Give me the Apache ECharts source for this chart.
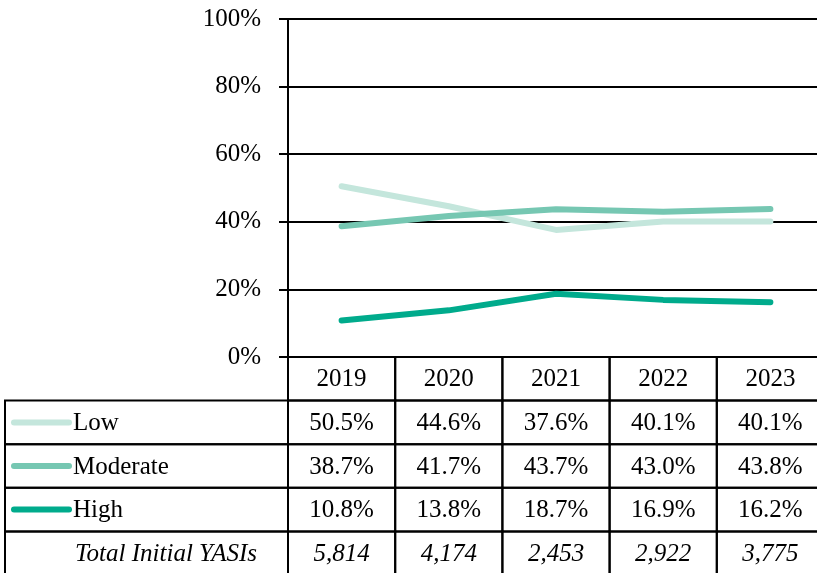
<!DOCTYPE html>
<html>
<head>
<meta charset="utf-8">
<script src="https://cdn.jsdelivr.net/npm/echarts@6/dist/echarts.min.js"></script>
<style>
html, body { margin: 0; padding: 0; background: #fff; }
#main { width: 817px; height: 573px; }
</style>
</head>
<body>
<div id="main"></div>
<script>
var years = ['2019', '2020', '2021', '2022', '2023'];
var low = [50.5, 44.6, 37.6, 40.1, 40.1];
var moderate = [38.7, 41.7, 43.7, 43.0, 43.8];
var high = [10.8, 13.8, 18.7, 16.9, 16.2];
var totals = ['5,814', '4,174', '2,453', '2,922', '3,775'];
var totalLabel = 'Total Initial YASIs';
var seriesNames = ['Low', 'Moderate', 'High'];
var seriesColors = ['#c4e6dc', '#76c7b2', '#00ab8c'];

var FONT = '"Liberation Serif", "Times New Roman", serif';
var FS = 25;
var tableLeft = 5;

// table cells: [column, row] plus a parallel info list
var cells = [];
var cellInfo = [];
function addCell(col, row, info) { cells.push([col, row]); cellInfo.push(info); }
years.forEach(function (y, i) { addCell(i, 0, { text: y, kind: 'val' }); });
[low, moderate, high].forEach(function (arr, r) {
  addCell(0, r + 1, { text: seriesNames[r], kind: 'label', color: seriesColors[r] });
  arr.forEach(function (v, i) { addCell(i, r + 1, { text: v.toFixed(1) + '%', kind: 'val' }); });
});
addCell(0, 4, { text: totalLabel, kind: 'label', italic: true });
totals.forEach(function (t, i) { addCell(i, 4, { text: t, kind: 'val', italic: true }); });

function renderCell(params, api) {
  var info = cellInfo[params.dataIndex];
  var c = api.coord([api.value(0), api.value(1)]);
  var s = api.size([1, 1]);
  var x0 = c[0] - s[0] / 2, y0 = c[1] - s[1] / 2;
  var font = (info.italic ? 'italic ' : '') + FS + 'px ' + FONT;
  var border = { stroke: '#000', lineWidth: 2, fill: null };
  if (info.kind === 'val') {
    return { type: 'group', children: [
      { type: 'rect', shape: { x: x0, y: y0, width: s[0], height: s[1] }, style: border },
      { type: 'text', style: { text: info.text, x: c[0], y: c[1] + 1, align: 'center', verticalAlign: 'middle', font: font, fill: '#000' } }
    ] };
  }
  var children = [
    { type: 'rect', shape: { x: tableLeft, y: y0, width: x0 - tableLeft, height: s[1] }, style: border },
    { type: 'text', style: { text: info.text, x: info.italic ? 75 : 73, y: c[1] + 1, align: 'left', verticalAlign: 'middle', font: font, fill: '#000' } }
  ];
  if (info.color) {
    children.push({ type: 'line', shape: { x1: 14, y1: c[1], x2: 69, y2: c[1] },
      style: { stroke: info.color, lineWidth: 6, lineCap: 'round' } });
  }
  return { type: 'group', children: children };
}

var chart = echarts.init(document.getElementById('main'));
var lineSeries = [low, moderate, high].map(function (arr, i) {
  return {
    name: seriesNames[i], type: 'line', data: arr, xAxisIndex: 0, yAxisIndex: 0,
    symbol: 'none', lineStyle: { width: 6, color: seriesColors[i], cap: 'round', join: 'round' },
    itemStyle: { color: seriesColors[i] }, z: 3
  };
});

chart.setOption({
  animation: false,
  backgroundColor: '#fff',
  grid: [
    { left: 288, top: 19, width: 536, height: 338, outerBoundsMode: 'none', containLabel: false },
    { left: 288, top: 357, width: 536, height: 218, outerBoundsMode: 'none', containLabel: false }
  ],
  xAxis: [
    { type: 'category', gridIndex: 0, data: years, boundaryGap: true,
      axisLine: { lineStyle: { color: '#000', width: 2 } },
      axisTick: { show: false }, axisLabel: { show: false } },
    { type: 'category', gridIndex: 1, data: years, show: false }
  ],
  yAxis: [
    { type: 'value', gridIndex: 0, min: 0, max: 100, interval: 20,
      axisLine: { show: true, lineStyle: { color: '#000', width: 2 } },
      axisTick: { show: true, length: 9, lineStyle: { color: '#000', width: 2 } },
      splitLine: { lineStyle: { color: '#000', width: 2 } },
      axisLabel: { formatter: '{value}%', color: '#000', fontFamily: FONT, fontSize: FS, margin: 27 } },
    { type: 'category', gridIndex: 1, data: ['0', '1', '2', '3', '4'], inverse: true, show: false }
  ],
  series: lineSeries.concat([{
    type: 'custom', xAxisIndex: 1, yAxisIndex: 1, clip: false,
    data: cells, renderItem: renderCell, z: 5, silent: true
  }])
});
</script>
</body>
</html>
